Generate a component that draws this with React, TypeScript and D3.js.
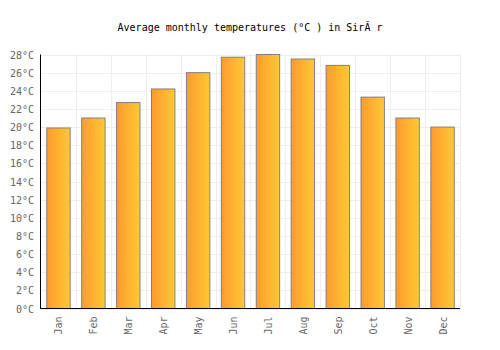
import React from "react";
import * as d3 from "d3";

const months = ["Jan","Feb","Mar","Apr","May","Jun","Jul","Aug","Sep","Oct","Nov","Dec"];
const temps = [19.9, 21.0, 22.7, 24.2, 26.0, 27.7, 28.0, 27.5, 26.8, 23.3, 21.0, 20.0];
const yTicks = [0,2,4,6,8,10,12,14,16,18,20,22,24,26,28];
const title = "Average monthly temperatures (°C ) in SirĂ r";

export default function App() {
  const W = 500, H = 350;
  const left = 41, right = 460, top = 54.5, bottom = 308.5;
  const x = d3.scaleBand<string>().domain(months).range([left, right]).paddingInner(0.33).paddingOuter(0.165);
  const xg = d3.scaleBand<string>().domain(months).range([left, right]);
  const y = d3.scaleLinear().domain([0, 28]).range([bottom, top]);
  const font = "'DejaVu Sans Mono', monospace";
  return (
    <svg width={W} height={H} style={{ position: "absolute", left: 0, top: 0 }}>
      <defs>
        <linearGradient id="bg" x1="0" x2="1" y1="0" y2="0">
          <stop offset="0%" stopColor="#ff9a2e" />
          <stop offset="100%" stopColor="#ffc934" />
        </linearGradient>
      </defs>
      <rect width={W} height={H} fill="#fff" />
      <text x={250} y={31} textAnchor="middle" fontFamily={font} fontSize={10} fill="#000">{title}</text>
      {yTicks.map(t => (
        <line key={"gy" + t} x1={left} x2={right} y1={Math.round(y(t)) + 0.5} y2={Math.round(y(t)) + 0.5} stroke="#eeeeee" />
      ))}
      {months.map(m => (
        <line key={"gx" + m} x1={Math.round(xg(m)! + xg.bandwidth()) + 0.5} x2={Math.round(xg(m)! + xg.bandwidth()) + 0.5} y1={top} y2={bottom} stroke="#eeeeee" />
      ))}
      {months.map((m, i) => (
        <rect key={m} x={x(m)!} y={y(temps[i])} width={x.bandwidth()} height={bottom - y(temps[i])}
          fill="url(#bg)" stroke="#808080" strokeWidth={1} />
      ))}
      <line x1={left - 0.5} x2={left - 0.5} y1={top} y2={bottom} stroke="#000" />
      <line x1={left - 1} x2={right} y1={bottom} y2={bottom} stroke="#000" />
      {yTicks.map(t => (
        <text key={"ty" + t} x={34} y={y(t) + 4} textAnchor="end" fontFamily={font} fontSize={10} fill="#666">{t}°C</text>
      ))}
      {months.map(m => {
        const cx = x(m)! + x.bandwidth() / 2 + 4;
        return (
          <text key={"tx" + m} transform={`translate(${cx},${bottom + 8}) rotate(-90)`} textAnchor="end"
            fontFamily={font} fontSize={10} fill="#666">{m}</text>
        );
      })}
    </svg>
  );
}
